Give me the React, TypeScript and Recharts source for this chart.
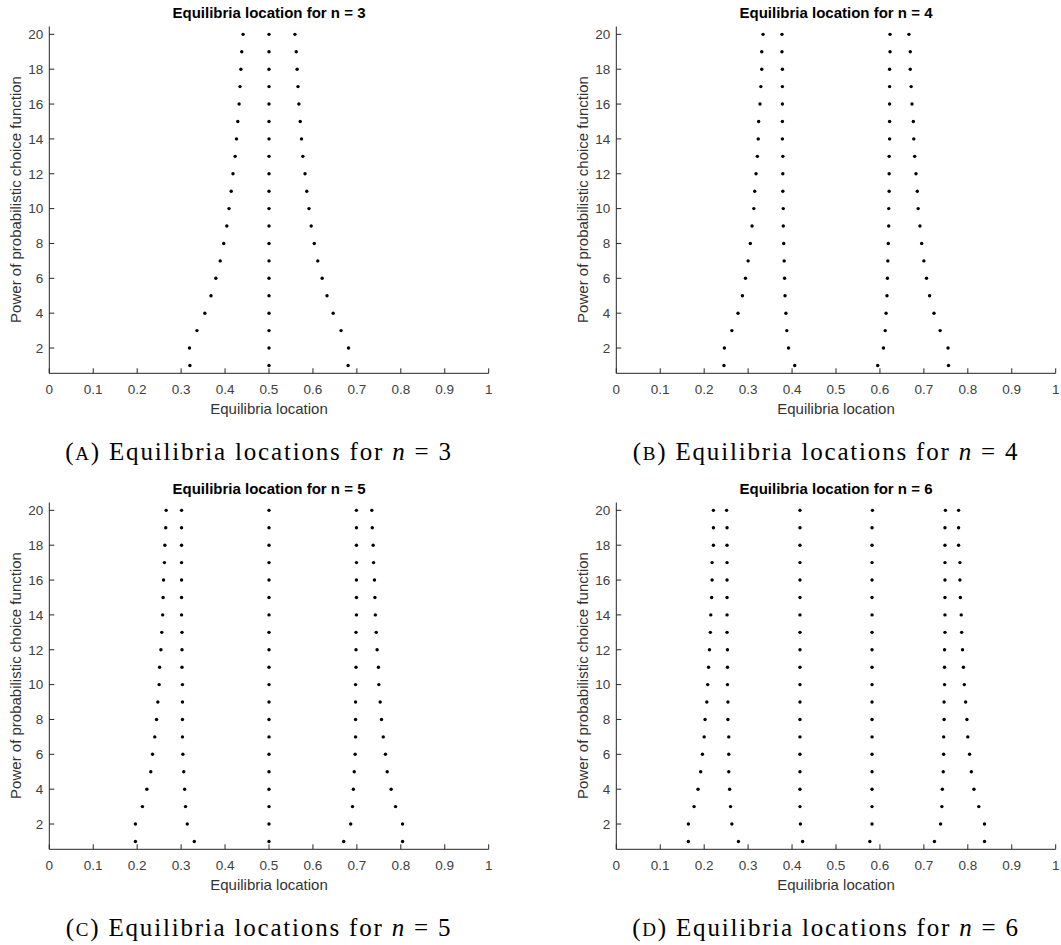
import { ScatterChart, Scatter, XAxis, YAxis, Label } from "recharts";

// power of the probabilistic choice function (y), 1..20
const powers = [1, 2, 3, 4, 5, 6, 7, 8, 9, 10, 11, 12, 13, 14, 15, 16, 17, 18, 19, 20];
const xTicks = [0, 0.1, 0.2, 0.3, 0.4, 0.5, 0.6, 0.7, 0.8, 0.9, 1];
const yTicks = [2, 4, 6, 8, 10, 12, 14, 16, 18, 20];

// n = 3
const n3Left = [0.320, 0.319, 0.336, 0.354, 0.368, 0.379, 0.389, 0.397, 0.404, 0.409, 0.414, 0.418, 0.423, 0.426, 0.429, 0.432, 0.434, 0.436, 0.438, 0.441];
const n3Mid = [0.5, 0.5, 0.5, 0.5, 0.5, 0.5, 0.5, 0.5, 0.5, 0.5, 0.5, 0.5, 0.5, 0.5, 0.5, 0.5, 0.5, 0.5, 0.5, 0.5];
const n3Right = [0.680, 0.681, 0.664, 0.646, 0.632, 0.621, 0.611, 0.603, 0.596, 0.591, 0.586, 0.582, 0.577, 0.574, 0.571, 0.568, 0.566, 0.564, 0.562, 0.559];

// n = 4
const n4OuterLeft = [0.245, 0.246, 0.263, 0.277, 0.287, 0.294, 0.300, 0.305, 0.309, 0.313, 0.315, 0.318, 0.321, 0.323, 0.324, 0.327, 0.329, 0.331, 0.331, 0.334];
const n4InnerLeft = [0.406, 0.392, 0.388, 0.386, 0.384, 0.383, 0.382, 0.381, 0.380, 0.380, 0.379, 0.379, 0.379, 0.378, 0.378, 0.378, 0.378, 0.378, 0.377, 0.377];
const n4InnerRight = [0.595, 0.608, 0.612, 0.614, 0.616, 0.617, 0.618, 0.619, 0.620, 0.620, 0.621, 0.621, 0.621, 0.622, 0.622, 0.622, 0.622, 0.622, 0.623, 0.623];
const n4OuterRight = [0.756, 0.755, 0.737, 0.723, 0.713, 0.706, 0.700, 0.695, 0.691, 0.687, 0.685, 0.682, 0.679, 0.677, 0.676, 0.673, 0.671, 0.669, 0.669, 0.666];

// n = 5
const n5OuterLeft = [0.196, 0.196, 0.212, 0.222, 0.231, 0.235, 0.240, 0.244, 0.247, 0.250, 0.251, 0.254, 0.256, 0.258, 0.259, 0.260, 0.262, 0.263, 0.265, 0.266];
const n5InnerLeft = [0.330, 0.314, 0.310, 0.308, 0.306, 0.304, 0.303, 0.303, 0.303, 0.303, 0.302, 0.302, 0.302, 0.301, 0.301, 0.301, 0.301, 0.301, 0.301, 0.301];
const n5Mid = [0.5, 0.5, 0.5, 0.5, 0.5, 0.5, 0.5, 0.5, 0.5, 0.5, 0.5, 0.5, 0.5, 0.5, 0.5, 0.5, 0.5, 0.5, 0.5, 0.5];
const n5InnerRight = [0.670, 0.686, 0.690, 0.692, 0.694, 0.696, 0.697, 0.697, 0.697, 0.697, 0.698, 0.698, 0.698, 0.699, 0.699, 0.699, 0.699, 0.699, 0.699, 0.699];
const n5OuterRight = [0.804, 0.804, 0.788, 0.778, 0.769, 0.765, 0.760, 0.756, 0.753, 0.750, 0.749, 0.746, 0.744, 0.742, 0.741, 0.740, 0.738, 0.737, 0.735, 0.734];

// n = 6
const n6OuterLeft = [0.164, 0.164, 0.177, 0.186, 0.192, 0.196, 0.200, 0.202, 0.206, 0.208, 0.210, 0.212, 0.214, 0.215, 0.217, 0.218, 0.218, 0.221, 0.221, 0.221];
const n6InnerLeft = [0.278, 0.263, 0.260, 0.258, 0.256, 0.256, 0.256, 0.254, 0.254, 0.253, 0.253, 0.253, 0.252, 0.252, 0.252, 0.252, 0.252, 0.252, 0.252, 0.251];
const n6MidLeft = [0.424, 0.419, 0.418, 0.418, 0.418, 0.418, 0.418, 0.418, 0.418, 0.418, 0.418, 0.418, 0.418, 0.418, 0.418, 0.418, 0.418, 0.418, 0.418, 0.418];
const n6MidRight = [0.577, 0.582, 0.582, 0.582, 0.582, 0.582, 0.582, 0.582, 0.582, 0.582, 0.582, 0.582, 0.582, 0.582, 0.582, 0.582, 0.582, 0.582, 0.582, 0.583];
const n6InnerRight = [0.724, 0.738, 0.741, 0.742, 0.744, 0.745, 0.745, 0.746, 0.746, 0.747, 0.747, 0.747, 0.748, 0.748, 0.748, 0.748, 0.748, 0.748, 0.748, 0.749];
const n6OuterRight = [0.838, 0.838, 0.825, 0.814, 0.808, 0.804, 0.800, 0.798, 0.795, 0.792, 0.790, 0.788, 0.786, 0.785, 0.783, 0.782, 0.782, 0.779, 0.779, 0.779];

const panels = [
  { n: 3, letter: "A", left: 0, top: 0, series: [n3Left, n3Mid, n3Right] },
  { n: 4, letter: "B", left: 567, top: 0, series: [n4OuterLeft, n4InnerLeft, n4InnerRight, n4OuterRight] },
  { n: 5, letter: "C", left: 0, top: 476, series: [n5OuterLeft, n5InnerLeft, n5Mid, n5InnerRight, n5OuterRight] },
  { n: 6, letter: "D", left: 567, top: 476, series: [n6OuterLeft, n6InnerLeft, n6MidLeft, n6MidRight, n6InnerRight, n6OuterRight] },
];

const sans = "'Liberation Sans', Arial, sans-serif";
const serif = "'Liberation Serif', 'Times New Roman', serif";

const toPoints = (xs: number[]) => xs.map((x, i) => ({ x, y: powers[i] }));

const Dot = (props: any) => <circle cx={props.cx} cy={props.cy} r={1.7} fill="#000" />;

function Panel({ n, letter, left, top, series }: any) {
  return (
    <div style={{ position: "absolute", left, top, width: 540, height: 476 }}>
      <div
        style={{
          position: "absolute", left: 49.3, top: 4, width: 439.4, textAlign: "center",
          fontFamily: sans, fontWeight: "bold", fontSize: 15, lineHeight: "18px", color: "#000",
        }}
      >
        Equilibria location for n = {n}
      </div>
      <ScatterChart width={530} height={420} margin={{ top: 26.5, right: 41.3, left: 9.3, bottom: 16.7 }}>
        <XAxis
          type="number"
          dataKey="x"
          domain={[0, 1]}
          ticks={xTicks}
          interval={0}
          tickFormatter={(v: number) => String(+v.toFixed(1))}
          height={30}
          tickSize={-5}
          tickMargin={16.6}
          stroke="#262626"
          tick={{ fill: "#404040", fontSize: 13.5, fontFamily: sans }}
        >
          <Label value="Equilibria location" position="bottom" offset={0.3} fill="#333" fontSize={15} fontFamily={sans} />
        </XAxis>
        <YAxis
          type="number"
          dataKey="y"
          domain={[0.55, 20.45]}
          ticks={yTicks}
          interval={0}
          width={40}
          tickSize={-5}
          tickMargin={11}
          stroke="#262626"
          tick={{ fill: "#404040", fontSize: 13.5, fontFamily: sans }}
        >
          <Label
            content={() => (
              <text
                x={15}
                y={199.5}
                transform="rotate(-90 15 199.5)"
                textAnchor="middle"
                dominantBaseline="central"
                fill="#333"
                fontSize={15}
                fontFamily={sans}
              >
                Power of probabilistic choice function
              </text>
            )}
          />
        </YAxis>
        {series.map((s: number[], i: number) => (
          <Scatter key={i} data={toPoints(s)} shape={Dot} isAnimationActive={false} />
        ))}
      </ScatterChart>
      <div
        style={{
          position: "absolute", left: 0, top: 436, width: 518, textAlign: "center",
          fontFamily: serif, fontSize: 25, lineHeight: "32px", color: "#000", letterSpacing: 1.8, whiteSpace: "nowrap",
        }}
      >
        (<span style={{ fontSize: 19 }}>{letter}</span>) Equilibria locations for{" "}
        <i>n</i> = {n}
      </div>
    </div>
  );
}

export default function App() {
  return (
    <div style={{ position: "absolute", left: 0, top: 0, width: 1061, height: 945, background: "#fff" }}>
      {panels.map((p) => (
        <Panel key={p.letter} {...p} />
      ))}
    </div>
  );
}
